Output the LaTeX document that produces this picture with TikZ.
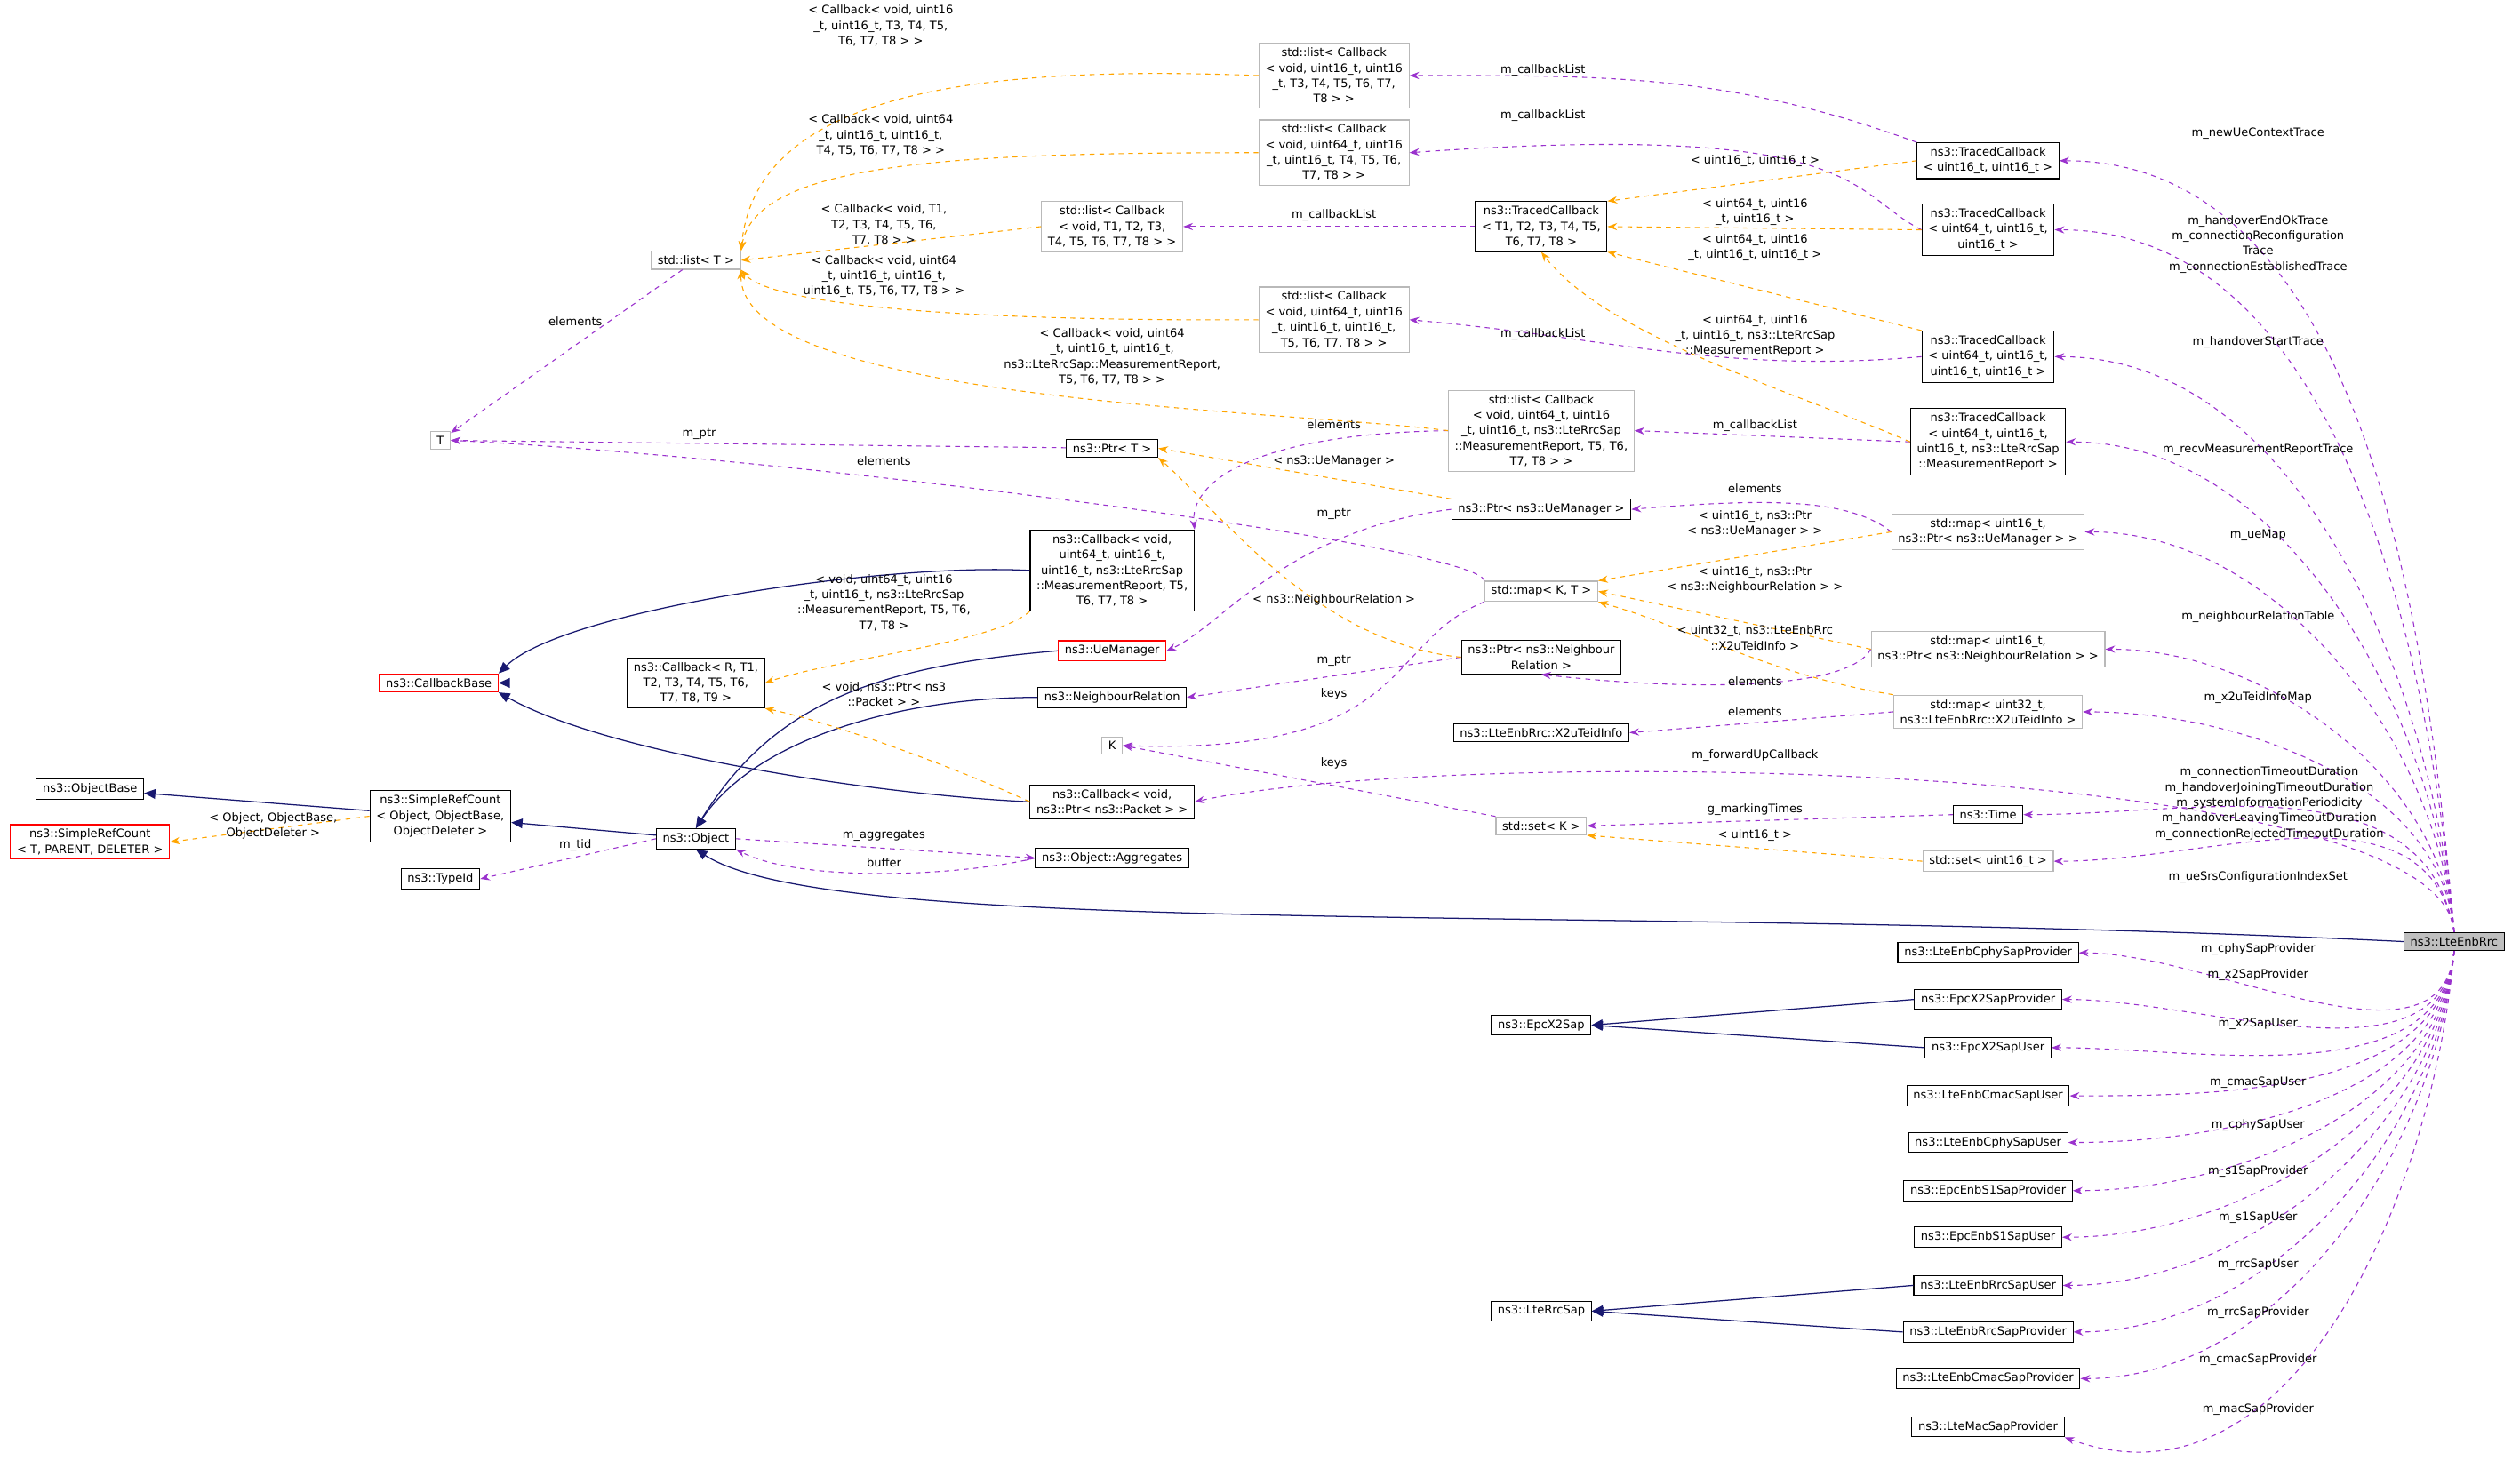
\documentclass[tikz,border=0pt]{standalone}
\usepackage{fontspec}
\setmainfont{DejaVu Sans}
\usetikzlibrary{arrows.meta}
\definecolor{dorange}{RGB}{255,165,0}
\definecolor{dpurple}{RGB}{154,50,205}
\definecolor{dnavy}{RGB}{25,25,112}
\begin{document}
\begin{tikzpicture}[x=1pt,y=-1pt,
 every node/.style={font=\fontsize{7.2}{9.6}\selectfont,align=center},
 bx/.style={draw=black,line width=0.6pt,inner xsep=4pt,inner ysep=2.8pt,fill=white},
 gb/.style={bx,draw=gray!55},
 rb/.style={bx,draw=red},
 lab/.style={inner sep=0pt},
 use/.style={draw=dpurple,dashed,line width=0.6pt,-{Stealth[length=6pt,width=4.5pt]}},
 tpl/.style={draw=dorange,dashed,line width=0.6pt,-{Stealth[length=6pt,width=4.5pt]}},
 inh/.style={draw=dnavy,line width=0.7pt,-{Triangle[open,length=7pt,width=6pt,fill=dnavy]}}]
\useasboundingbox (0,0) rectangle (1568,919);
% nodes
\node[bx,fill=gray!50] (rrc) at (1527,586) {ns3::LteEnbRrc};
\node[bx] (tc1) at (1237,100) {ns3::TracedCallback\\< uint16\_t, uint16\_t >};
\node[bx] (tc2) at (1237,143) {ns3::TracedCallback\\< uint64\_t, uint16\_t,\\ uint16\_t >};
\node[bx] (tc3) at (1237,222) {ns3::TracedCallback\\< uint64\_t, uint16\_t,\\ uint16\_t, uint16\_t >};
\node[bx] (tc4) at (1237,275) {ns3::TracedCallback\\< uint64\_t, uint16\_t,\\ uint16\_t, ns3::LteRrcSap\\::MeasurementReport >};
\node[gb] (map1) at (1237,331) {std::map< uint16\_t,\\ ns3::Ptr< ns3::UeManager > >};
\node[gb] (map2) at (1237,404) {std::map< uint16\_t,\\ ns3::Ptr< ns3::NeighbourRelation > >};
\node[gb] (map3) at (1237,443) {std::map< uint32\_t,\\ ns3::LteEnbRrc::X2uTeidInfo >};
\node[bx] (time) at (1237,507) {ns3::Time};
\node[gb] (set16) at (1237,536) {std::set< uint16\_t >};
\node[bx] (s1) at (1237,593) {ns3::LteEnbCphySapProvider};
\node[bx] (s2) at (1237,622) {ns3::EpcX2SapProvider};
\node[bx] (s3) at (1237,652) {ns3::EpcX2SapUser};
\node[bx] (s4) at (1237,682) {ns3::LteEnbCmacSapUser};
\node[bx] (s5) at (1237,711) {ns3::LteEnbCphySapUser};
\node[bx] (s6) at (1237,741) {ns3::EpcEnbS1SapProvider};
\node[bx] (s7) at (1237,770) {ns3::EpcEnbS1SapUser};
\node[bx] (s8) at (1237,800) {ns3::LteEnbRrcSapUser};
\node[bx] (s9) at (1237,829) {ns3::LteEnbRrcSapProvider};
\node[bx] (s10) at (1237,858) {ns3::LteEnbCmacSapProvider};
\node[bx] (s11) at (1237,888) {ns3::LteMacSapProvider};
\node[gb] (l1) at (830,47) {std::list< Callback\\< void, uint16\_t, uint16\\\_t, T3, T4, T5, T6, T7,\\ T8 > >};
\node[gb] (l2) at (830,95) {std::list< Callback\\< void, uint64\_t, uint16\\\_t, uint16\_t, T4, T5, T6,\\ T7, T8 > >};
\node[bx] (tcg) at (959,141) {ns3::TracedCallback\\< T1, T2, T3, T4, T5,\\ T6, T7, T8 >};
\node[gb] (l3) at (692,141) {std::list< Callback\\< void, T1, T2, T3,\\ T4, T5, T6, T7, T8 > >};
\node[gb] (l4) at (830,199) {std::list< Callback\\< void, uint64\_t, uint16\\\_t, uint16\_t, uint16\_t,\\ T5, T6, T7, T8 > >};
\node[gb] (l5) at (959,268) {std::list< Callback\\< void, uint64\_t, uint16\\\_t, uint16\_t, ns3::LteRrcSap\\::MeasurementReport, T5, T6,\\ T7, T8 > >};
\node[bx] (ptrue) at (959,317) {ns3::Ptr< ns3::UeManager >};
\node[gb] (mapkt) at (959,368) {std::map< K, T >};
\node[bx] (ptrnr) at (959,409) {ns3::Ptr< ns3::Neighbour\\ Relation >};
\node[bx] (x2u) at (959,456) {ns3::LteEnbRrc::X2uTeidInfo};
\node[gb] (setk) at (959,514) {std::set< K >};
\node[bx] (ptrt) at (692,279) {ns3::Ptr< T >};
\node[bx] (cbm) at (692,355) {ns3::Callback< void,\\ uint64\_t, uint16\_t,\\ uint16\_t, ns3::LteRrcSap\\::MeasurementReport, T5,\\ T6, T7, T8 >};
\node[rb] (uem) at (692,405) {ns3::UeManager};
\node[bx] (nr) at (692,434) {ns3::NeighbourRelation};
\node[gb] (k) at (692,464) {K};
\node[bx] (cbp) at (692,499) {ns3::Callback< void,\\ ns3::Ptr< ns3::Packet > >};
\node[bx] (agg) at (692,534) {ns3::Object::Aggregates};
\node[gb] (lt) at (433,162) {std::list< T >};
\node[gb] (t) at (274,274) {T};
\node[rb] (cbb) at (273,425) {ns3::CallbackBase};
\node[bx] (cbr) at (433,425) {ns3::Callback< R, T1,\\ T2, T3, T4, T5, T6,\\ T7, T8, T9 >};
\node[bx] (ob) at (56,491) {ns3::ObjectBase};
\node[rb] (srr) at (56,524) {ns3::SimpleRefCount\\< T, PARENT, DELETER >};
\node[bx] (src) at (274,508) {ns3::SimpleRefCount\\< Object, ObjectBase,\\ ObjectDeleter >};
\node[bx] (tid) at (274,547) {ns3::TypeId};
\node[bx] (obj) at (433,522) {ns3::Object};
\node[bx] (x2sap) at (959,638) {ns3::EpcX2Sap};
\node[bx] (rrcsap) at (959,816) {ns3::LteRrcSap};
% inheritance
\draw[inh] (rrc.west) .. controls (1000,562) and (520,585) .. (obj.south);
\draw[inh] (cbr) -- (cbb);
\draw[inh] (cbm.west) .. controls (550,350) and (350,380) .. (cbb.north east);
\draw[inh] (cbp.west) .. controls (550,495) and (380,470) .. (cbb.south east);
\draw[inh] (src) -- (ob);
\draw[inh] (obj) -- (src);
\draw[inh] (uem.west) .. controls (540,415) and (480,440) .. (obj.north);
\draw[inh] (nr.west) .. controls (560,434) and (470,460) .. (obj.north);
\draw[inh] (s2.west) -- (x2sap.east);
\draw[inh] (s3.west) -- (x2sap.east);
\draw[inh] (s8.west) -- (rrcsap.east);
\draw[inh] (s9.west) -- (rrcsap.east);
% usage from rrc
\draw[use] (rrc.north) to[out=95,in=0,looseness=0.9] (tc1.east);
\draw[use] (rrc.north) to[out=95,in=0,looseness=0.9] (tc2.east);
\draw[use] (rrc.north) to[out=95,in=0,looseness=0.9] (tc3.east);
\draw[use] (rrc.north) to[out=95,in=0,looseness=0.9] (tc4.east);
\draw[use] (rrc.north) to[out=95,in=0,looseness=0.9] (map1.east);
\draw[use] (rrc.north) to[out=95,in=0,looseness=0.9] (map2.east);
\draw[use] (rrc.north) to[out=95,in=0,looseness=0.9] (map3.east);
\draw[use] (rrc.north) .. controls (1520,470) and (900,465) .. (cbp.east);
\draw[use] (rrc.north) to[out=100,in=0] (time.east);
\draw[use] (rrc.north) to[out=100,in=0] (set16.east);
\foreach \n in {s1,s2,s3,s4,s5,s6,s7,s8,s9,s10} \draw[use] (rrc.south) to[out=-95,in=0,looseness=0.9] (\n.east);
\draw[use] (rrc.south) to[out=-95,in=-20] (s11.south east);
\node[lab] at (1405,83) {m\_newUeContextTrace};
\node[lab] at (1405,152) {m\_handoverEndOkTrace\\m\_connectionReconfiguration\\Trace\\m\_connectionEstablishedTrace};
\node[lab] at (1405,213) {m\_handoverStartTrace};
\node[lab] at (1405,280) {m\_recvMeasurementReportTrace};
\node[lab] at (1405,333) {m\_ueMap};
\node[lab] at (1405,384) {m\_neighbourRelationTable};
\node[lab] at (1405,434) {m\_x2uTeidInfoMap};
\node[lab] at (1092,470) {m\_forwardUpCallback};
\node[lab] at (1412,500) {m\_connectionTimeoutDuration\\m\_handoverJoiningTimeoutDuration\\m\_systemInformationPeriodicity\\m\_handoverLeavingTimeoutDuration\\m\_connectionRejectedTimeoutDuration};
\node[lab] at (1405,546) {m\_ueSrsConfigurationIndexSet};
\node[lab] at (1405,591) {m\_cphySapProvider};
\node[lab] at (1405,607) {m\_x2SapProvider};
\node[lab] at (1405,637) {m\_x2SapUser};
\node[lab] at (1405,674) {m\_cmacSapUser};
\node[lab] at (1405,700) {m\_cphySapUser};
\node[lab] at (1405,729) {m\_s1SapProvider};
\node[lab] at (1405,758) {m\_s1SapUser};
\node[lab] at (1405,787) {m\_rrcSapUser};
\node[lab] at (1405,817) {m\_rrcSapProvider};
\node[lab] at (1405,846) {m\_cmacSapProvider};
\node[lab] at (1405,877) {m\_macSapProvider};
% other usage
\draw[use] (tc1.north west) to[out=160,in=0] (l1.east);
\draw[use] (tc2.west) .. controls (1150,120) and (1160,75) .. (l2.east);
\draw[use] (tcg) -- (l3);
\draw[use] (tc3.west) to[out=185,in=-5] (l4.east);
\draw[use] (tc4.west) -- (l5.east);
\draw[use] (lt) -- (t);
\draw[use] (ptrt) -- (t);
\draw[use] (mapkt.north west) .. controls (920,340) and (500,285) .. (t.east);
\draw[use] (l5.west) .. controls (780,270) and (740,300) .. (cbm.north east);
\draw[use] (ptrue.west) .. controls (800,330) and (760,390) .. (uem.east);
\draw[use] (map1.west) .. controls (1150,310) and (1100,310) .. (ptrue.east);
\draw[use] (ptrnr.west) -- (nr.east);
\draw[use] (map2.west) .. controls (1150,430) and (1050,430) .. (ptrnr.south);
\draw[use] (map3.west) -- (x2u.east);
\draw[use] (mapkt.south west) .. controls (860,400) and (880,470) .. (k.east);
\draw[use] (setk.north west) -- (k.east);
\draw[use] (time.west) -- (setk.east);
\draw[use] (obj.east) -- (agg.west);
\draw[use] (agg.west) .. controls (600,545) and (500,550) .. (obj.south east);
\draw[use] (obj.west) -- (tid.east);
\node[lab] at (960,44) {m\_callbackList};
\node[lab] at (960,72) {m\_callbackList};
\node[lab] at (830,134) {m\_callbackList};
\node[lab] at (960,208) {m\_callbackList};
\node[lab] at (1092,265) {m\_callbackList};
\node[lab] at (358,200) {elements};
\node[lab] at (435,270) {m\_ptr};
\node[lab] at (550,287) {elements};
\node[lab] at (830,264) {elements};
\node[lab] at (830,320) {m\_ptr};
\node[lab] at (1092,304) {elements};
\node[lab] at (830,411) {m\_ptr};
\node[lab] at (1092,424) {elements};
\node[lab] at (1092,443) {elements};
\node[lab] at (830,432) {keys};
\node[lab] at (830,475) {keys};
\node[lab] at (1092,504) {g\_markingTimes};
\node[lab] at (550,520) {m\_aggregates};
\node[lab] at (550,537) {buffer};
\node[lab] at (358,526) {m\_tid};
% template instances
\draw[tpl] (l1.west) .. controls (600,40) and (470,60) .. (lt.north east);
\draw[tpl] (l2.west) .. controls (600,95) and (470,100) .. (lt.north east);
\draw[tpl] (l3.west) -- (lt.east);
\draw[tpl] (l4.west) .. controls (600,200) and (480,190) .. (lt.south east);
\draw[tpl] (l5.west) .. controls (800,255) and (460,250) .. (lt.south east);
\draw[tpl] (tc1.west) -- (tcg.north east);
\draw[tpl] (tc2.west) -- (tcg.east);
\draw[tpl] (tc3.north west) -- (tcg.south east);
\draw[tpl] (tc4.west) .. controls (1120,245) and (1000,210) .. (tcg.south);
\draw[tpl] (ptrue.north west) -- (ptrt.east);
\draw[tpl] (ptrnr.west) .. controls (820,400) and (760,320) .. (ptrt.south east);
\draw[tpl] (map1.west) -- (mapkt.north east);
\draw[tpl] (map2.west) -- (mapkt.east);
\draw[tpl] (map3.north west) .. controls (1100,420) and (1050,390) .. (mapkt.south east);
\draw[tpl] (set16.west) -- (setk.south east);
\draw[tpl] (cbm.south west) .. controls (620,400) and (520,410) .. (cbr.east);
\draw[tpl] (cbp.west) .. controls (600,480) and (520,450) .. (cbr.south east);
\draw[tpl] (src.west) -- (srr.east);
\node[lab] at (548,16) {< Callback< void, uint16\\\_t, uint16\_t, T3, T4, T5,\\ T6, T7, T8 > >};
\node[lab] at (548,84) {< Callback< void, uint64\\\_t, uint16\_t, uint16\_t,\\ T4, T5, T6, T7, T8 > >};
\node[lab] at (550,140) {< Callback< void, T1,\\ T2, T3, T4, T5, T6,\\ T7, T8 > >};
\node[lab] at (550,172) {< Callback< void, uint64\\\_t, uint16\_t, uint16\_t,\\ uint16\_t, T5, T6, T7, T8 > >};
\node[lab] at (692,222) {< Callback< void, uint64\\\_t, uint16\_t, uint16\_t,\\ ns3::LteRrcSap::MeasurementReport,\\ T5, T6, T7, T8 > >};
\node[lab] at (1092,100) {< uint16\_t, uint16\_t >};
\node[lab] at (1092,132) {< uint64\_t, uint16\\\_t, uint16\_t >};
\node[lab] at (1092,154) {< uint64\_t, uint16\\\_t, uint16\_t, uint16\_t >};
\node[lab] at (1092,209) {< uint64\_t, uint16\\\_t, uint16\_t, ns3::LteRrcSap\\::MeasurementReport >};
\node[lab] at (830,287) {< ns3::UeManager >};
\node[lab] at (830,373) {< ns3::NeighbourRelation >};
\node[lab] at (1092,326) {< uint16\_t, ns3::Ptr\\< ns3::UeManager > >};
\node[lab] at (1092,361) {< uint16\_t, ns3::Ptr\\< ns3::NeighbourRelation > >};
\node[lab] at (1092,397) {< uint32\_t, ns3::LteEnbRrc\\::X2uTeidInfo >};
\node[lab] at (1092,520) {< uint16\_t >};
\node[lab] at (550,375) {< void, uint64\_t, uint16\\\_t, uint16\_t, ns3::LteRrcSap\\::MeasurementReport, T5, T6,\\ T7, T8 >};
\node[lab] at (550,432) {< void, ns3::Ptr< ns3\\::Packet > >};
\node[lab] at (170,514) {< Object, ObjectBase,\\ ObjectDeleter >};
\end{tikzpicture}
\end{document}
